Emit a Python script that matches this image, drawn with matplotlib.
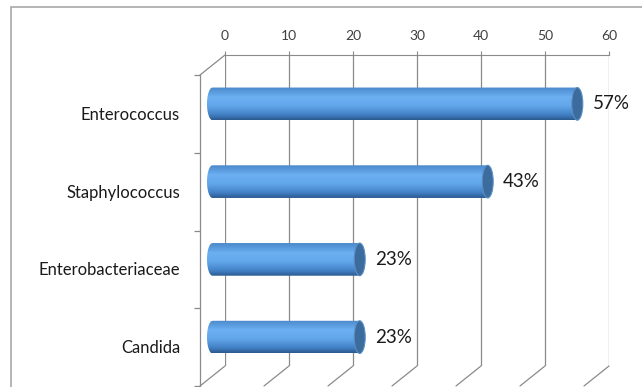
import numpy as np
import matplotlib
matplotlib.use("Agg")
import matplotlib.pyplot as plt
from matplotlib.colors import LinearSegmentedColormap
from matplotlib.patches import Ellipse, PathPatch, Rectangle
from matplotlib.path import Path
from matplotlib.transforms import Affine2D

plt.rcParams["font.family"] = ["Lato", "DejaVu Sans"]

# data
categories = ["Enterococcus", "Staphylococcus", "Enterobacteriaceae", "Candida"]
percentages = [57, 43, 23, 23]
x_ticks = [0, 10, 20, 30, 40, 50, 60]

GRID = "#8a8a8a"
BAR_CMAP = LinearSegmentedColormap.from_list(
    "cyl", [(0.0, "#4a88cc"), (0.3, "#6cb0f2"), (0.55, "#64a8ec"),
            (0.85, "#4280c4"), (1.0, "#2b5a8e")])

fig = plt.figure(figsize=(6.42, 3.87), dpi=100)
W, H = 642, 387
ax = fig.add_axes([225 / W, 21 / H, 384 / W, 311 / H])

# 3D depth offsets (pixels)
mid = ax.transData + Affine2D().translate(-12.5, -10)
front = ax.transData + Affine2D().translate(-25, -20)

ax.set_xlim(0, 60)
ax.set_ylim(len(categories) - 0.5, -0.5)
ax.set_yticks([])
ax.xaxis.tick_top()
ax.set_xticks(x_ticks)
ax.tick_params(axis="x", length=3, color=GRID, labelcolor="#404040",
               labelsize=10, pad=6)
for s in ["left", "right", "bottom"]:
    ax.spines[s].set_visible(False)
ax.spines["top"].set_color(GRID)
ax.grid(axis="x", color=GRID, lw=0.9)
ax.set_axisbelow(True)

# floor lines
bottom = len(categories) - 0.5
for xv in x_ticks:
    ax.annotate("", xy=(xv, bottom), xycoords="data", xytext=(-25, -20),
                textcoords="offset pixels", annotation_clip=False,
                arrowprops=dict(arrowstyle="-", color=GRID, lw=0.9,
                                shrinkA=0, shrinkB=0))
# left wall
ax.annotate("", xy=(0, -0.5), xycoords="data", xytext=(-25, -20),
            textcoords="offset pixels", annotation_clip=False,
            arrowprops=dict(arrowstyle="-", color=GRID, lw=0.9,
                            shrinkA=0, shrinkB=0))
bounds = np.arange(len(categories) + 1) - 0.5
ax.plot([0, 0], [bounds[0], bounds[-1]], color=GRID, lw=0.9,
        transform=front, clip_on=False)
ax.plot([0] * len(bounds), bounds, ls="none", marker=0, ms=4, mew=0.9,
        color=GRID, transform=front, clip_on=False)

# cylinders
h = 0.42
a = 5.5 / 6.4  # half-width of end ellipse in data units
t = np.linspace(0, np.pi, 40)
for i, (name, v) in enumerate(zip(categories, percentages)):
    verts = [(0, i - h / 2), (v, i - h / 2), (v, i + h / 2), (0, i + h / 2)]
    verts += [(-a * np.sin(tt), i + h / 2 * np.cos(tt)) for tt in t]
    verts.append((0, i - h / 2))
    clip = PathPatch(Path(verts), transform=mid, fc="none", ec="none")
    ax.add_patch(clip)
    grad = np.linspace(0, 1, 64).reshape(-1, 1)
    im = ax.imshow(grad, cmap=BAR_CMAP, aspect="auto", origin="upper",
                   extent=(-a, v, i + h / 2, i - h / 2), interpolation="bilinear",
                   transform=mid, zorder=3)
    im.set_clip_path(clip)
    im.set_clip_box(fig.bbox)
    ax.add_patch(Ellipse((v, i), 2 * a, h, fc="#3b6c9d", ec="#5a8fc4",
                         lw=0.8, transform=mid, zorder=4, clip_on=False))
    ax.text(v, i, f"{v}%", transform=mid + Affine2D().translate(5.5 + 10, 0),
            ha="left", va="center", fontsize=13.5, color="#1a1a1a", zorder=5)
    ax.text(0, i, name, transform=front + Affine2D().translate(-20, -1),
            ha="right", va="center", fontsize=12, color="#1a1a1a")

ax.set_xlim(0, 60)
ax.set_ylim(len(categories) - 0.5, -0.5)

# chart area border
fig.patches.append(Rectangle((11 / W, -0.1), 1.2, 1.1 - 7 / H,
                             transform=fig.transFigure, fill=False,
                             ec="#a8a8a8", lw=1.2))

fig.savefig("out.png", dpi=100)
